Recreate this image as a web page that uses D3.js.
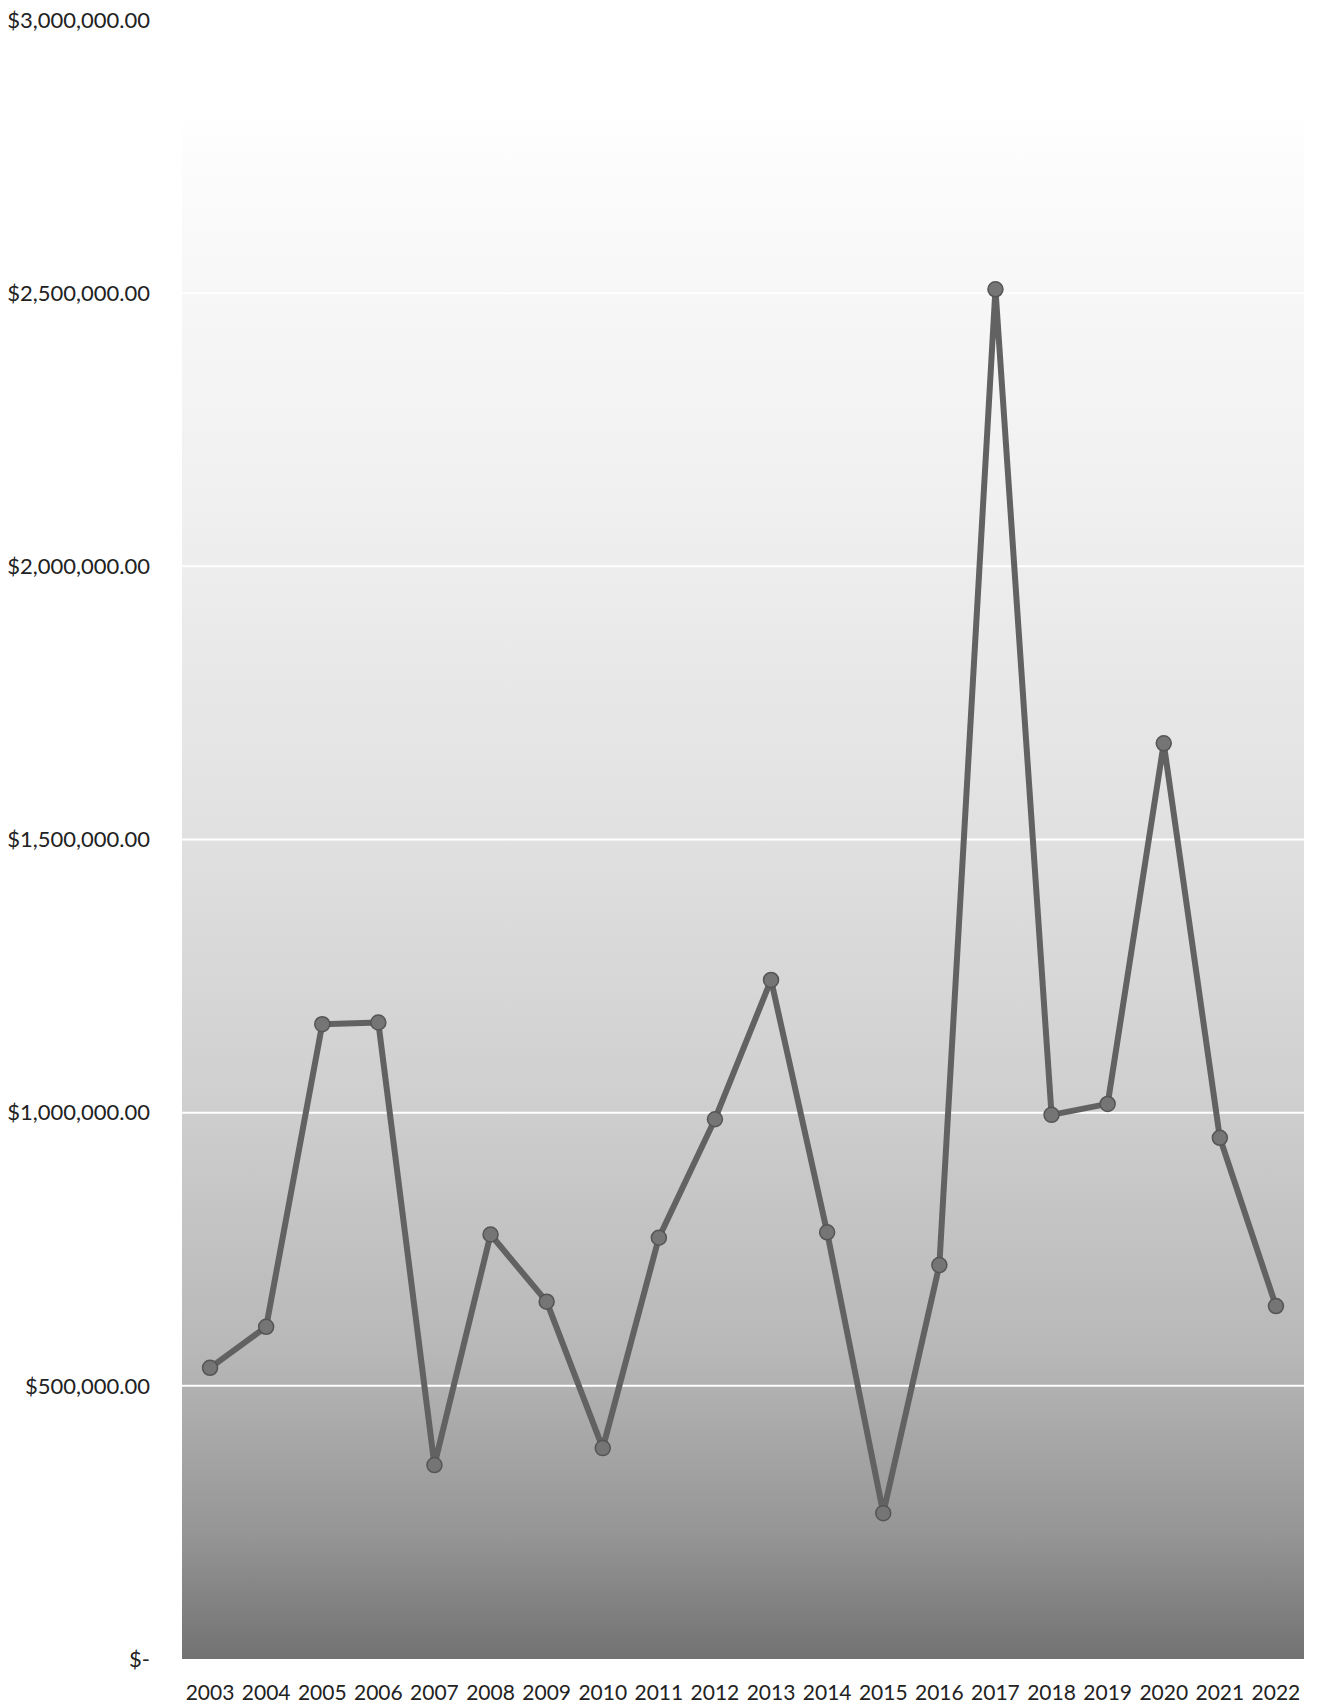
<!DOCTYPE html>
<html>
<head>
<meta charset="utf-8">
<script src="https://cdn.jsdelivr.net/npm/d3@7"></script>
<style>
body { margin: 0; background: #fff; }
text { font-family: Lato, "Open Sans", sans-serif; fill: #222; }
</style>
</head>
<body>
<script>
var w = 1317;
var h = 1706;

// data
var years = ["2003","2004","2005","2006","2007","2008","2009","2010","2011","2012",
             "2013","2014","2015","2016","2017","2018","2019","2020","2021","2022"];
var amounts = [533000, 608000, 1162000, 1165000, 355000, 777000, 654000, 386000, 771000, 988000,
               1243000, 781000, 267000, 721000, 2507000, 996000, 1016000, 1676000, 954000, 646000];
var yTicks = [0, 500000, 1000000, 1500000, 2000000, 2500000, 3000000];

var padL = 182, padR = 1304, padT = 20, padB = 1659;

var svg = d3.select("body")
    .append("svg")
    .attr("width", w)
    .attr("height", h);

var x = d3.scaleBand()
    .domain(years)
    .range([padL, padR]);

var y = d3.scaleLinear()
    .domain([0, 3000000])
    .range([padB, padT]);

// background gradient (stippled in the original)
var defs = svg.append("defs");
var grad = defs.append("linearGradient")
    .attr("id", "bg")
    .attr("x1", 0).attr("y1", 0)
    .attr("x2", 0).attr("y2", 1);
grad.append("stop").attr("offset", "0%").attr("stop-color", "#ffffff");
grad.append("stop").attr("offset", "6%").attr("stop-color", "#fafafa");
grad.append("stop").attr("offset", "25%").attr("stop-color", "#f0f0f0");
grad.append("stop").attr("offset", "45%").attr("stop-color", "#e2e2e2");
grad.append("stop").attr("offset", "63%").attr("stop-color", "#d0d0d0");
grad.append("stop").attr("offset", "80%").attr("stop-color", "#b8b8b8");
grad.append("stop").attr("offset", "92%").attr("stop-color", "#959595");
grad.append("stop").attr("offset", "100%").attr("stop-color", "#727272");

svg.append("rect")
    .attr("x", padL)
    .attr("y", y(2830000))
    .attr("width", padR - padL)
    .attr("height", padB - y(2830000))
    .attr("fill", "url(#bg)");

// gridlines
svg.append("g")
    .selectAll("line")
    .data(yTicks.slice(1))
    .enter()
    .append("line")
    .attr("x1", padL)
    .attr("x2", padR)
    .attr("y1", function(d){ return y(d); })
    .attr("y2", function(d){ return y(d); })
    .attr("stroke", "#ffffff")
    .attr("stroke-width", 2);

// y labels
svg.append("g")
    .selectAll("text")
    .data(yTicks)
    .enter()
    .append("text")
    .attr("x", 150)
    .attr("y", function(d){ return y(d); })
    .attr("dy", "0.35em")
    .attr("text-anchor", "end")
    .style("font-size", "22px")
    .text(function(d){
        return d == 0 ? "$-" : "$" + d3.format(",.2f")(d);
    });

// x labels
svg.append("g")
    .selectAll("text")
    .data(years)
    .enter()
    .append("text")
    .attr("x", function(d){ return x(d) + x.bandwidth()/2; })
    .attr("y", 1693)
    .attr("dy", "0.35em")
    .attr("text-anchor", "middle")
    .style("font-size", "21px")
    .text(function(d){ return d; });

// line
var line = d3.line()
    .x(function(d,i){ return x(years[i]) + x.bandwidth()/2; })
    .y(function(d){ return y(d); });

svg.append("path")
    .datum(amounts)
    .attr("d", line)
    .attr("fill", "none")
    .attr("stroke", "#626262")
    .attr("stroke-width", 6)
    .attr("stroke-linejoin", "round");

svg.append("g")
    .selectAll("circle")
    .data(amounts)
    .enter()
    .append("circle")
    .attr("cx", function(d,i){ return x(years[i]) + x.bandwidth()/2; })
    .attr("cy", function(d){ return y(d); })
    .attr("r", 7.5)
    .attr("fill", "#757575")
    .attr("stroke", "#555555")
    .attr("stroke-width", 1.5);
</script>
</body>
</html>
